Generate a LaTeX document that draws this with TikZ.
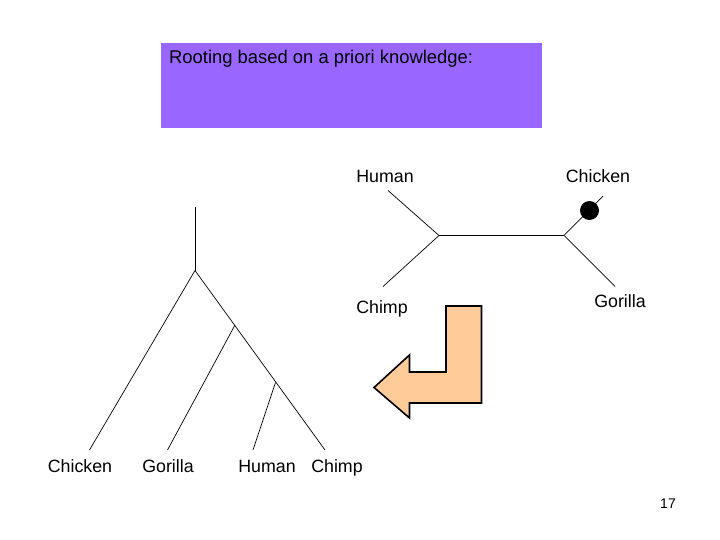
\documentclass[tikz,border=0pt]{standalone}
\usepackage{fontspec}
\setmainfont{Liberation Sans}
\usepackage{xcolor}
\usetikzlibrary{positioning}

\definecolor{boxpurple}{HTML}{9966FF}
\definecolor{arrowpeach}{HTML}{FFCC99}

\begin{document}
\begin{tikzpicture}[x=1pt, y=-1pt]
    % Define styles
    \tikzstyle{label} = [inner sep=0pt, anchor=base, font=\fontsize{17.8}{20}\selectfont]
    \tikzstyle{branch} = [draw=black, line width=0.7pt]
    \tikzstyle{rootdot} = [circle, fill=black, inner sep=0pt, minimum size=19pt]

    \useasboundingbox (0,0) rectangle (720,540);

    % Title box
    \fill[boxpurple] (161,43) rectangle (542,128);
    \node[label, anchor=base west, font=\fontsize{18.4}{20}\selectfont] (title) at (169,64) {Rooting based on a priori knowledge:};

    % Unrooted tree
    \coordinate (uleft) at (439,235.5);
    \coordinate (uright) at (564,235.5);
    \coordinate (uhuman) at (388,190.5);
    \coordinate (uchimp) at (383,286.5);
    \coordinate (uchicken) at (603,196);
    \coordinate (ugorilla) at (615,286.5);
    \node[label] (lhuman) at (385,183) {Human};
    \node[label] (lchicken) at (598,183) {Chicken};
    \node[label] (lchimp) at (382,313) {Chimp};
    \node[label] (lgorilla) at (620,307) {Gorilla};
    \draw[branch] (uhuman) -- (uleft);
    \draw[branch] (uchimp) -- (uleft);
    \draw[branch] (uleft) -- (uright);
    \draw[branch] (uright) -- (uchicken);
    \draw[branch] (uright) -- (ugorilla);
    \node[rootdot] (dot) at (589.5,210.5) {};

    % Arrow
    \draw[line width=1.6pt, fill=arrowpeach, line join=miter]
        (446,306) -- (481.5,306) -- (481.5,403) -- (409.5,403) -- (409.5,418)
        -- (374,387.5) -- (409.5,355) -- (409.5,372) -- (446,372) -- cycle;

    % Rooted tree
    \coordinate (rtop) at (195,207);
    \coordinate (rroot) at (195,270.5);
    \coordinate (rin1) at (235,325);
    \coordinate (rin2) at (275.5,382.5);
    \coordinate (rchicken) at (89.5,450);
    \coordinate (rgorilla) at (167.5,450);
    \coordinate (rhuman) at (253,450);
    \coordinate (rchimp) at (325,450);
    \node[label] (bchicken) at (80,472) {Chicken};
    \node[label] (bgorilla) at (168,472) {Gorilla};
    \node[label] (bhuman) at (267,472) {Human};
    \node[label] (bchimp) at (337,472) {Chimp};
    \draw[branch] (rtop) -- (rroot);
    \draw[branch] (rroot) -- (rchicken);
    \draw[branch] (rroot) -- (rchimp);
    \draw[branch] (rin1) -- (rgorilla);
    \draw[branch] (rin2) -- (rhuman);

    % Page number
    \node[inner sep=0pt, font=\fontsize{14}{16}\selectfont] (page) at (668,504) {17};
\end{tikzpicture}
\end{document}
